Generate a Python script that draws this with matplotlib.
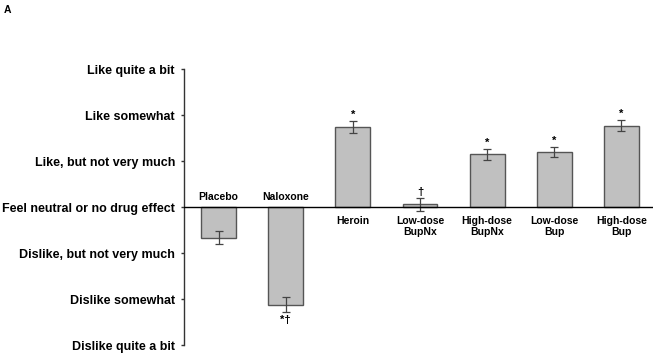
import matplotlib
matplotlib.use("Agg")
import matplotlib.pyplot as plt

plt.rcParams['font.family'] = ['Liberation Sans', 'DejaVu Sans']
plt.rcParams['font.weight'] = 'bold'

conditions = ['Placebo', 'Naloxone', 'Heroin', 'Low-dose\nBupNx', 'High-dose\nBupNx',
              'Low-dose\nBup', 'High-dose\nBup']
means = [-0.66, -2.12, 1.75, 0.065, 1.15, 1.20, 1.77]
sems = [0.135, 0.16, 0.125, 0.14, 0.11, 0.11, 0.12]
marks = ['', '*\u2020', '*', '\u2020', '*', '*', '*']
scale_labels = ['Dislike quite a bit', 'Dislike somewhat', 'Dislike, but not very much',
                'Feel neutral or no drug effect', 'Like, but not very much',
                'Like somewhat', 'Like quite a bit']
scale_values = [-3, -2, -1, 0, 1, 2, 3]

fig = plt.figure(figsize=(6.56, 3.54), dpi=100)
ax = fig.add_axes([0.2805, 0.0246, 0.7149, 0.7794])

x = list(range(len(conditions)))
ax.bar(x, means, width=0.52, color='#c0c0c0', edgecolor='#555555', linewidth=1.0, zorder=2)
ax.errorbar(x, means, yerr=sems, fmt='none', ecolor='#444444', elinewidth=0.9,
            capsize=3, capthick=0.9, zorder=3)
ax.axhline(0, color='black', linewidth=1.0, zorder=4)

for i, (m, s, mk) in enumerate(zip(means, sems, marks)):
    if m >= 0:
        if mk:
            ax.annotate(mk, (i, m + s), xytext=(0, 1), textcoords='offset points',
                        ha='center', va='bottom', fontsize=8)
        ax.annotate(conditions[i], (i, 0), xytext=(0, -6), textcoords='offset points',
                    ha='center', va='top', fontsize=7.5, linespacing=1.15)
    else:
        if mk:
            ax.annotate(mk, (i, m - s), xytext=(0, -2), textcoords='offset points',
                        ha='center', va='top', fontsize=8)
        ax.annotate(conditions[i], (i, 0), xytext=(0, 4), textcoords='offset points',
                    ha='center', va='bottom', fontsize=7.5)

ax.set_xlim(-0.515, 6.47)
ax.set_ylim(-3, 3)
ax.set_yticks(scale_values)
ax.set_yticklabels(scale_labels, fontsize=9, fontweight='bold')
ax.set_xticks([])
for side in ['top', 'right', 'bottom']:
    ax.spines[side].set_visible(False)
ax.spines['left'].set_color('#333333')
ax.spines['left'].set_linewidth(1.0)
ax.tick_params(axis='y', direction='out', length=2.5, width=1.0, color='#333333', pad=4)
ax.patch.set_visible(False)

fig.text(0.006, 0.985, 'A', fontsize=7.5, fontweight='bold', ha='left', va='top')

fig.savefig('out.png', dpi=100)
